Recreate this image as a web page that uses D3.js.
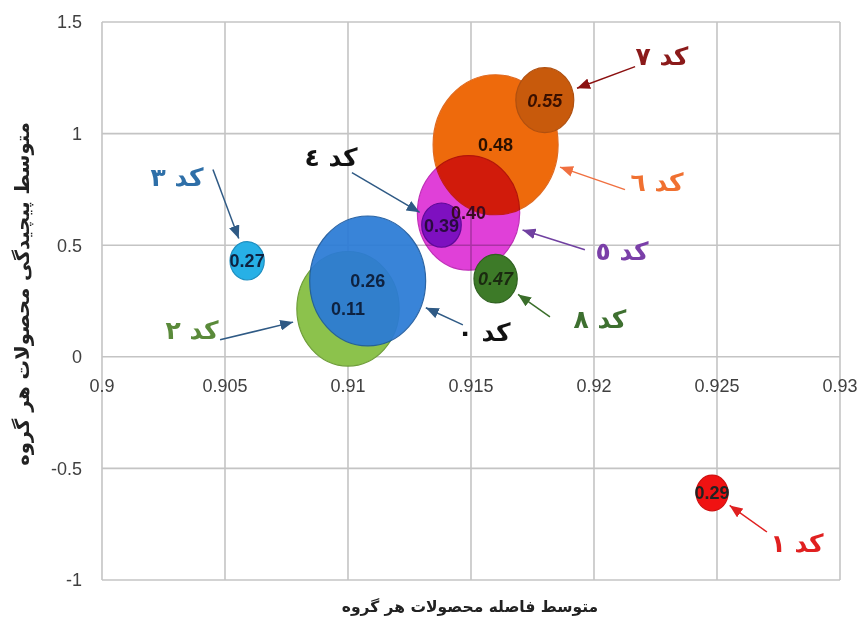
<!DOCTYPE html>
<html><head><meta charset="utf-8">
<script src="https://cdn.jsdelivr.net/npm/d3@7"></script>
<style>html,body{margin:0;padding:0;background:#fff;}svg{display:block;}</style>
</head><body><svg id="c" width="864" height="622"></svg>
<script>
// ---- data ----
const codeNames   = ["کد ٠","کد ١","کد ٢","کد ٣","کد ٤","کد ٥","کد ٦","کد ٧","کد ٨"];
const distValues  = [0.9108, 0.9248, 0.9100, 0.9059, 0.9138, 0.9149, 0.9160, 0.9180, 0.9160];
const complexVals = [0.34, -0.61, 0.215, 0.43, 0.59, 0.645, 0.95, 1.15, 0.35];
const bubbleSizes = [86, 6.5, 67, 7.5, 10, 67, 100, 21.5, 12];
const bubbleLabels= ["0.26","0.29","0.11","0.27","0.39","0.40","0.48","0.55","0.47"];
const xTicks = [0.9, 0.905, 0.91, 0.915, 0.92, 0.925, 0.93];
const xTickLabels = ["0.9","0.905","0.91","0.915","0.92","0.925","0.93"];
const yTicks = [-1, -0.5, 0, 0.5, 1, 1.5];
const yTickLabels = ["-1","-0.5","0","0.5","1","1.5"];
const xTitle = "متوسط فاصله محصولات هر گروه";
const yTitle = "متوسط پیچیدگی محصولات هر گروه";
// annotation anchors (data units): text centre and arrow start
const annTextX  = [0.91553, 0.92825, 0.90366, 0.90305, 0.90931, 0.92114, 0.92256, 0.92276, 0.92024];
const annTextY  = [0.108, -0.834, 0.121, 0.803, 0.892, 0.471, 0.780, 1.345, 0.166];
const annStartX = [0.91467, 0.92703, 0.90480, 0.90451, 0.91016, 0.91963, 0.92126, 0.92167, 0.91821];
const annStartY = [0.143, -0.785, 0.076, 0.839, 0.825, 0.480, 0.749, 1.300, 0.179];

// ---- styles ----
const fillColors  = ["#2b7bd6","#f01212","#8cc24c","#27b0e6","#7e10c0","#e040d8","#ee6a0c","#c85a0c","#3d7a28"];
const edgeColors  = ["#1d5a9e","#d01010","#6f9e3a","#1f8fc0","#5e0a98","#c030b8","#e06a20","#b05010","#2f6020"];
const labelColors = ["#0e2240","#222","#0e2240","#0e2240","#2a0a40","#3a0a20","#2a1000","#3a1000","#1a2a10"];
const italicLbl   = [false,false,false,false,false,false,false,true,true];
const annColors   = ["#111111","#e02020","#5a8a3a","#2e6fa8","#111111","#7a3fa8","#f07030","#8b1a1a","#3e7030"];
const arrowColors = ["#2f5a85","#e02020","#2f5a85","#2f5a85","#2f5a85","#7040a0","#f07040","#8b1010","#3a6e2a"];
const drawOrder = [2,0,3,6,5,4,7,8,1];
const blend = ["normal","normal","normal","normal","normal","multiply","normal","normal","normal"];
const opac  = [0.93,1,1,1,1,1,1,1,1];
const stretch = 1.12;

const svg = d3.select("#c");
const W = 864, H = 622;
const m = {l:102, r:24, t:22, b:42};
const x = d3.scaleLinear().domain([0.9,0.93]).range([m.l, W-m.r]);
const y = d3.scaleLinear().domain([-1,1.5]).range([H-m.b, m.t]);
const r = d3.scaleSqrt().domain([0,100]).range([0,62.5]);

const grid = svg.append("g");
grid.selectAll("line.v").data(xTicks).join("line")
  .attr("x1",d=>x(d)).attr("x2",d=>x(d)).attr("y1",y(1.5)).attr("y2",y(-1))
  .attr("stroke","#c4c4c4").attr("stroke-width",1.6);
grid.selectAll("line.h").data(yTicks).join("line")
  .attr("y1",d=>y(d)).attr("y2",d=>y(d)).attr("x1",x(0.9)).attr("x2",x(0.93))
  .attr("stroke","#c4c4c4").attr("stroke-width",1.6);

// tick labels
const tickFont = "'Liberation Sans', Arial, sans-serif";
svg.append("g").selectAll("text").data(xTicks).join("text")
  .attr("x",d=>x(d)).attr("y",y(0)+35).attr("text-anchor","middle")
  .attr("font-family",tickFont).attr("font-size",18).attr("fill","#404040")
  .text((d,i)=>xTickLabels[i]);
svg.append("g").selectAll("text").data(yTicks).join("text")
  .attr("x",m.l-20).attr("y",d=>y(d)).attr("dy","0.35em").attr("text-anchor","end")
  .attr("font-family",tickFont).attr("font-size",18).attr("fill","#404040")
  .text((d,i)=>yTickLabels[i]);

// bubbles
const bub = svg.append("g");
drawOrder.forEach(i=>{
  bub.append("ellipse")
    .attr("cx",x(distValues[i])).attr("cy",y(complexVals[i]))
    .attr("rx",r(bubbleSizes[i])).attr("ry",r(bubbleSizes[i])*stretch)
    .attr("fill",fillColors[i]).attr("stroke",edgeColors[i]).attr("stroke-width",1.2)
    .attr("opacity",opac[i]).style("mix-blend-mode",blend[i]);
});
const lab = svg.append("g");
drawOrder.forEach(i=>{
  lab.append("text")
    .attr("x",x(distValues[i])).attr("y",y(complexVals[i])).attr("dy","0.36em")
    .attr("text-anchor","middle").attr("font-family",tickFont).attr("font-size",18)
    .attr("font-weight","bold").attr("font-style",italicLbl[i]?"italic":"normal")
    .attr("fill",labelColors[i]).text(bubbleLabels[i]);
});

// annotations
const defs = svg.append("defs");
arrowColors.forEach((c,i)=>{
  defs.append("marker").attr("id","ah"+i).attr("viewBox","0 0 12 10")
    .attr("refX",12).attr("refY",5).attr("markerWidth",13).attr("markerHeight",11)
    .attr("markerUnits","userSpaceOnUse").attr("orient","auto")
    .append("path").attr("d","M0,0 L12,5 L0,10 Z").attr("fill",c);
});
const ann = svg.append("g");
codeNames.forEach((name,i)=>{
  const sx = x(annStartX[i]), sy = y(annStartY[i]);
  const cx = x(distValues[i]), cy = y(complexVals[i]);
  const rx = r(bubbleSizes[i]), ry = rx*stretch;
  const dx = sx-cx, dy = sy-cy;
  const t = 1/Math.sqrt((dx/rx)**2+(dy/ry)**2);
  const len = Math.hypot(dx,dy), gap = 5;
  const ex = cx + dx*t + dx/len*gap, ey = cy + dy*t + dy/len*gap;
  ann.append("line").attr("x1",sx).attr("y1",sy).attr("x2",ex).attr("y2",ey)
    .attr("stroke",arrowColors[i]).attr("stroke-width",1.5)
    .attr("marker-end","url(#ah"+i+")");
  ann.append("text").attr("x",x(annTextX[i])).attr("y",y(annTextY[i])).attr("dy","0.35em")
    .attr("text-anchor","middle").attr("direction","rtl")
    .attr("font-family","'DejaVu Sans', sans-serif").attr("font-weight","bold")
    .attr("font-size",25).attr("fill",annColors[i]).text(name);
});

// axis titles
svg.append("text").attr("x",470).attr("y",607).attr("dy","0.35em")
  .attr("text-anchor","middle").attr("direction","rtl")
  .attr("font-family","'DejaVu Sans', sans-serif").attr("font-weight","bold")
  .attr("font-size",15.5).attr("fill","#222").text(xTitle);
svg.append("text").attr("transform","translate(22,294) rotate(-90)").attr("dy","0.35em")
  .attr("text-anchor","middle").attr("direction","rtl")
  .attr("font-family","'DejaVu Sans', sans-serif").attr("font-weight","bold")
  .attr("font-size",19.5).attr("fill","#222").text(yTitle);
</script></body></html>
